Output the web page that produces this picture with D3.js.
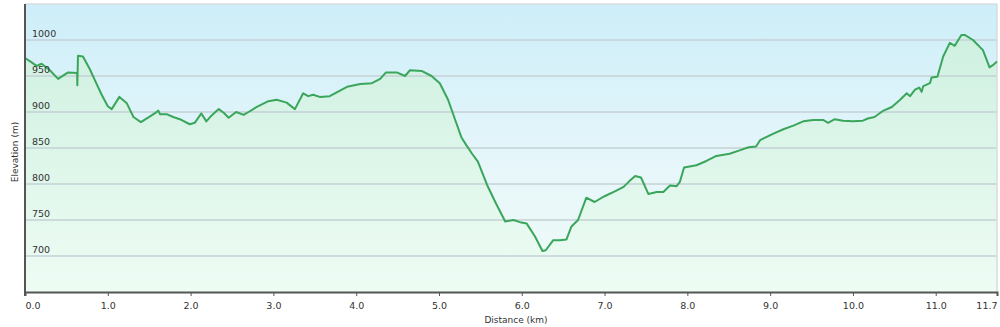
<!DOCTYPE html>
<html>
<head>
<meta charset="utf-8">
<script src="https://cdn.jsdelivr.net/npm/d3@7"></script>
<style>
html,body{margin:0;padding:0;background:#fff;}
svg{display:block;}
text{font-family:"DejaVu Sans",Verdana,sans-serif;fill:#333;}
</style>
</head>
<body>
<svg id="chart" width="1000" height="327"></svg>
<script>
const distanceKm = [0.00,0.08,0.14,0.20,0.30,0.40,0.52,0.63,0.632,0.64,0.70,0.785,0.845,0.926,1.00,1.047,1.14,1.23,1.31,1.40,1.51,1.58,1.61,1.63,1.71,1.79,1.87,1.99,2.05,2.13,2.19,2.26,2.34,2.40,2.46,2.55,2.64,2.70,2.80,2.94,3.04,3.16,3.26,3.36,3.42,3.48,3.56,3.68,3.89,4.05,4.19,4.29,4.36,4.49,4.59,4.65,4.79,4.91,5.01,5.11,5.19,5.27,5.33,5.40,5.47,5.58,5.68,5.80,5.90,5.98,6.06,6.16,6.25,6.29,6.38,6.46,6.54,6.60,6.68,6.78,6.88,7.00,7.13,7.23,7.30,7.37,7.44,7.53,7.63,7.71,7.79,7.87,7.91,7.96,8.11,8.23,8.35,8.51,8.64,8.74,8.83,8.88,9.04,9.16,9.28,9.40,9.52,9.64,9.70,9.78,9.88,10.00,10.12,10.18,10.26,10.37,10.47,10.57,10.65,10.69,10.75,10.80,10.83,10.85,10.93,10.95,11.02,11.09,11.17,11.23,11.31,11.35,11.45,11.57,11.65,11.69,11.74];
const elevationM = [975,969,964,967,958,946,955,954,937,978,977,959,944,924,908,904,921,912,893,886,894,899,902,897,897,893,890,883,885,898,887,896,904,899,892,900,896,900,907,915,917,913,904,926,922,924,921,922,935,939,940,946,955,955,950,958,957,950,940,917,891,865,854,842,831,799,775,748,750,747,745,727,707,708,722,722,723,741,750,781,775,783,790,796,804,811,809,786,789,789,798,797,803,823,826,832,839,842,847,851,852,861,870,876,881,887,889,889,885,890,888,887,888,891,893,902,907,917,926,922,931,934,928,936,940,948,949,977,996,992,1007,1007,1000,986,962,965,970];
const xTickValues = [0,1,2,3,4,5,6,7,8,9,10,11,11.74];
const yTickValues = [700,750,800,850,900,950,1000];
const xTitle = "Distance (km)";
const yTitle = "Elevation (m)";

const data = distanceKm.map((d,i)=>({d, e: elevationM[i]}));

const svg = d3.select("#chart");
const L = 25, R = 997, T = 4, B = 292;
const x = d3.scaleLinear().domain([0, 11.74]).range([L, R]);
const y = d3.scaleLinear().domain([650, 1050]).range([B, T]);

const defs = svg.append("defs");
const bg = defs.append("linearGradient").attr("id","bg").attr("x1",0).attr("y1",0).attr("x2",0).attr("y2",1);
bg.append("stop").attr("offset","0%").attr("stop-color","#cdeef9");
bg.append("stop").attr("offset","55%").attr("stop-color","#e6f6fa");
bg.append("stop").attr("offset","100%").attr("stop-color","#f0fbf6");
const ag = defs.append("linearGradient").attr("id","ag").attr("gradientUnits","userSpaceOnUse")
  .attr("x1",0).attr("y1",T).attr("x2",0).attr("y2",B);
ag.append("stop").attr("offset","0%").attr("stop-color","#cbefdf");
ag.append("stop").attr("offset","100%").attr("stop-color","#eefcf4");

svg.append("rect").attr("x",L).attr("y",T).attr("width",R-L).attr("height",B-T).attr("fill","url(#bg)");

// area
svg.append("path").datum(data)
  .attr("fill","url(#ag)")
  .attr("d", d3.area().x(p=>x(p.d)).y0(B).y1(p=>y(p.e)));

// grid
svg.append("g").selectAll("line").data(yTickValues).join("line")
  .attr("x1",L).attr("x2",R).attr("y1",v=>y(v)).attr("y2",v=>y(v))
  .attr("stroke","#c4d0d4").attr("stroke-width",1.5);

// border top/right
svg.append("line").attr("x1",L).attr("x2",R).attr("y1",T).attr("y2",T).attr("stroke","#d8dcdd").attr("stroke-width",1.5);
svg.append("line").attr("x1",R).attr("x2",R).attr("y1",T).attr("y2",B).attr("stroke","#d8dcdd").attr("stroke-width",1.5);

// line
svg.append("path").datum(data)
  .attr("fill","none").attr("stroke","#3aa65b").attr("stroke-width",2).attr("stroke-linejoin","round")
  .attr("d", d3.line().x(p=>x(p.d)).y(p=>y(p.e)));

// y labels inside
svg.append("g").selectAll("text").data(yTickValues).join("text")
  .attr("x",32).attr("y",v=>y(v)-3).attr("font-size","9.5px").text(v=>v);

// x axis
const xAxis = d3.axisBottom(x).tickValues(xTickValues).tickFormat(d3.format(".1f")).tickSize(4).tickPadding(6);
const gx = svg.append("g").attr("transform",`translate(0,${B})`).call(xAxis);
gx.select(".domain").attr("stroke","#555").attr("stroke-width",2);
gx.selectAll(".tick line").attr("stroke","#555");
gx.selectAll(".tick text").attr("font-size","9.5px").attr("fill","#333")
  .attr("font-family","DejaVu Sans, Verdana, sans-serif")
  .attr("text-anchor",(v,i)=> i===0 ? "start" : (i===xTickValues.length-1 ? "end" : "middle"));

// left axis
svg.append("line").attr("x1",L).attr("x2",L).attr("y1",T).attr("y2",B+4).attr("stroke","#555").attr("stroke-width",2);

// titles
svg.append("text").attr("x",(L+R)/2+5).attr("y",323).attr("text-anchor","middle").attr("font-size","9px").text(xTitle);
svg.append("text").attr("transform",`translate(18,${(T+B)/2+4}) rotate(-90)`).attr("text-anchor","middle").attr("font-size","9px").text(yTitle);
</script>
</body>
</html>
